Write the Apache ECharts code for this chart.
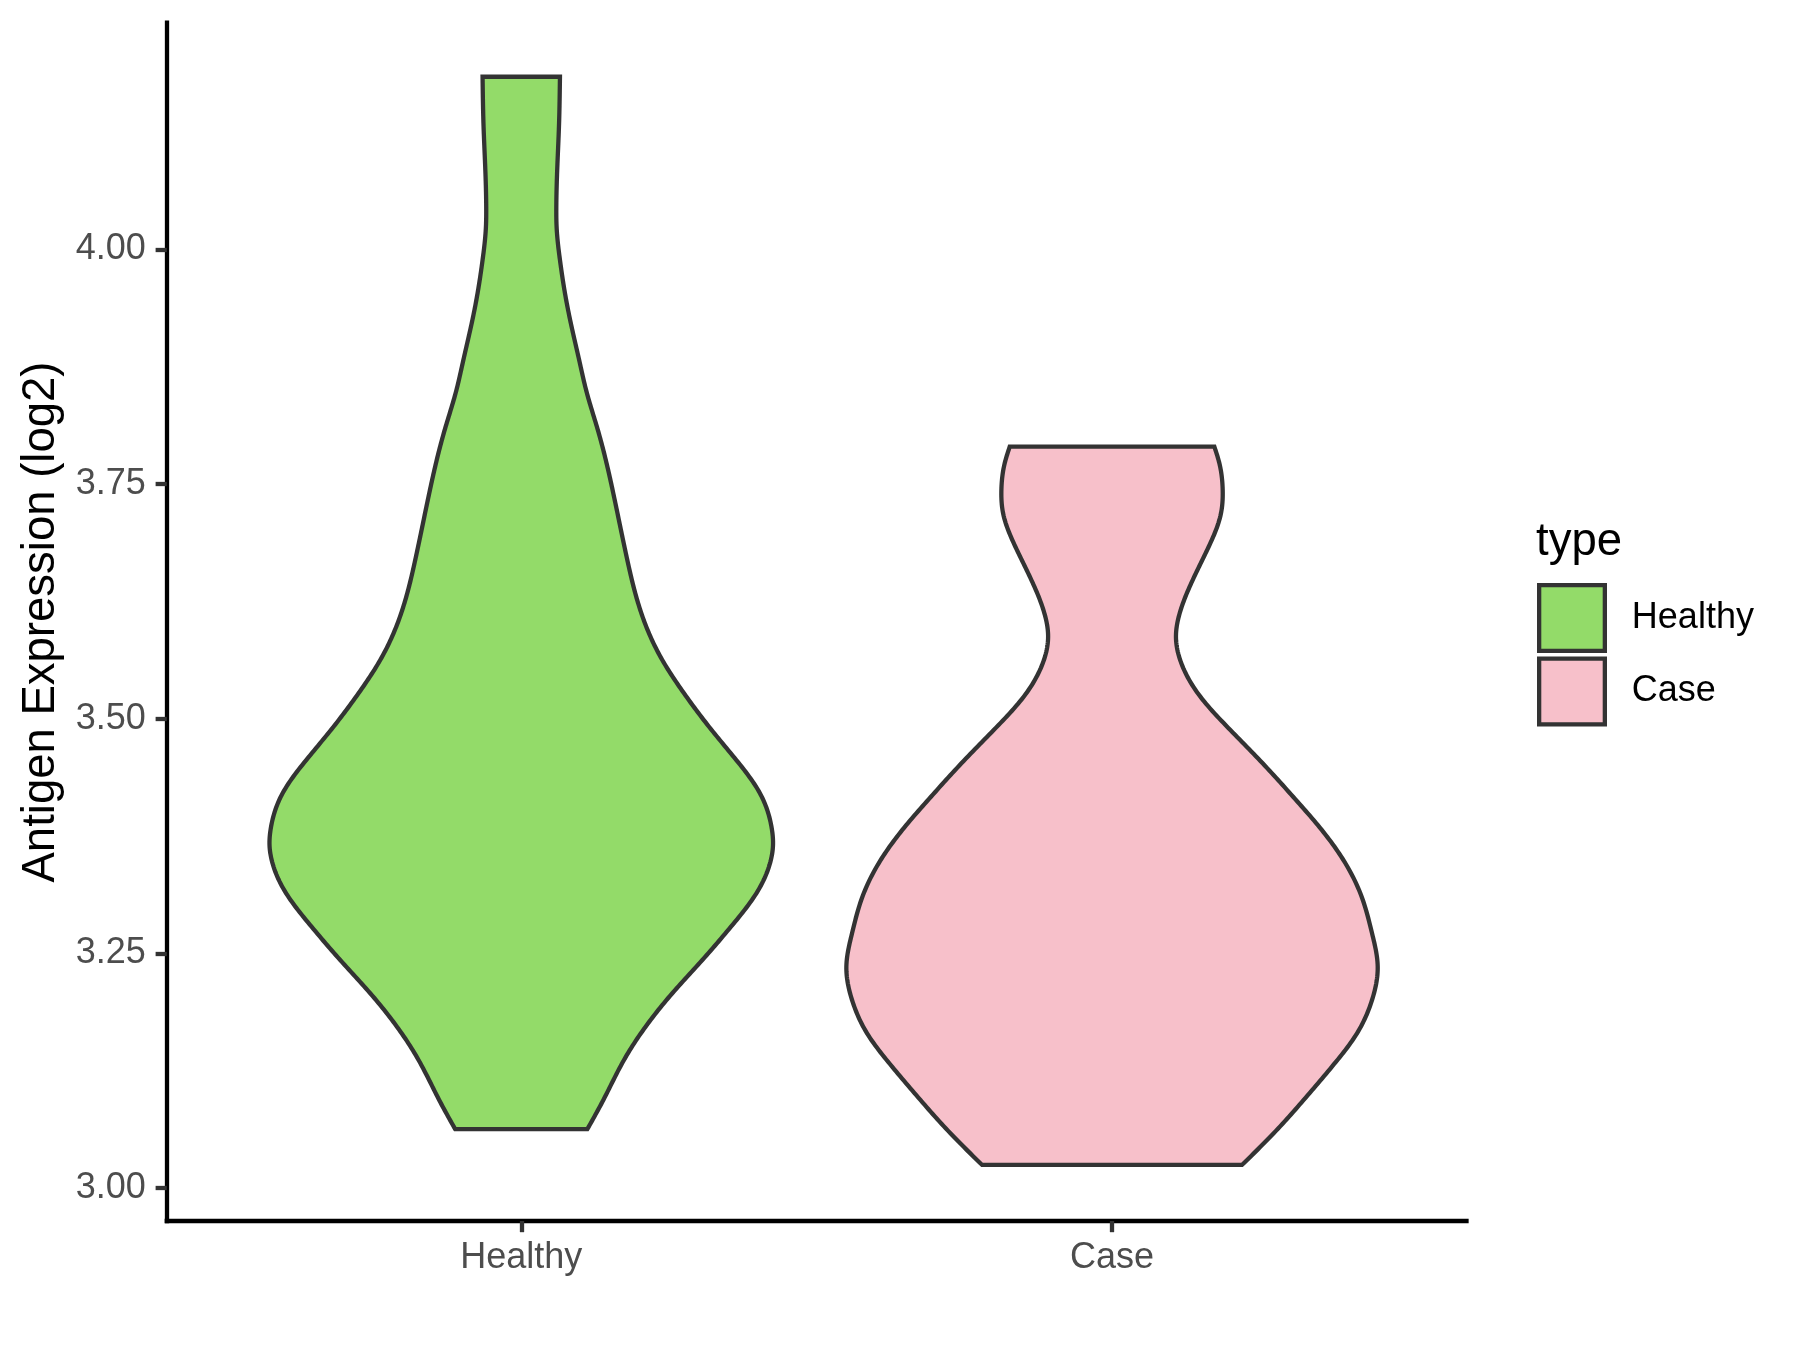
<!DOCTYPE html>
<html>
<head>
<meta charset="utf-8">
<script src="https://cdn.jsdelivr.net/npm/echarts@6/dist/echarts.min.js"></script>
<style>
html,body{margin:0;padding:0;background:#fff;}
#chart{width:1800px;height:1350px;}
</style>
</head>
<body>
<div id="chart"></div>
<script>
// ---- data ----
const categories = ['Healthy', 'Case'];
const categoryPositions = [1, 2];
const yTicks = [3.00, 3.25, 3.50, 3.75, 4.00];

// Healthy violin: expression values (top to bottom) and half-widths (category units)
const healthyValues = [4.1841, 4.1308, 4.0954, 4.0421, 4.0243, 3.9888, 3.9533, 3.9177, 3.8823, 3.8468, 3.8112, 3.7757, 3.7402, 3.7046, 3.6692, 3.6337, 3.5981, 3.5626, 3.5271, 3.4915, 3.4560, 3.4206, 3.3850, 3.3637, 3.3495, 3.3140, 3.2784, 3.2429, 3.2075, 3.1719, 3.1364, 3.0938, 3.0626];
const healthyHalfWidths = [0.0655, 0.0638, 0.0615, 0.0593, 0.0598, 0.0655, 0.0740, 0.0852, 0.0980, 0.1112, 0.1280, 0.1431, 0.1558, 0.1676, 0.1795, 0.1930, 0.2116, 0.2387, 0.2755, 0.3178, 0.3640, 0.4040, 0.4235, 0.4260, 0.4225, 0.3980, 0.3550, 0.3065, 0.2557, 0.2105, 0.1739, 0.1390, 0.1118];

// Case violin
const caseValues = [3.7899, 3.7722, 3.7437, 3.7189, 3.6833, 3.6478, 3.6124, 3.5874, 3.5591, 3.5235, 3.4880, 3.4525, 3.4169, 3.3815, 3.3460, 3.3090, 3.2714, 3.2358, 3.2003, 3.1648, 3.1293, 3.0938, 3.0583, 3.0245];
const caseHalfWidths = [0.1732, 0.1817, 0.1873, 0.1844, 0.1636, 0.1365, 0.1145, 0.1082, 0.1173, 0.1495, 0.2003, 0.2550, 0.3065, 0.3550, 0.3950, 0.4233, 0.4401, 0.4497, 0.4401, 0.4147, 0.3723, 0.3244, 0.2736, 0.2199];

const fillColors = ['#93DB69', '#F7C0CA'];
const outlineColor = '#333333';
const LW = 4.3;

// ---- rendering helper: natural cubic spline of screen x as a function of screen y ----
function smoothSide(pts, segs) {
  const n = pts.length;
  const ys = pts.map(p => p[1]), xs = pts.map(p => p[0]);
  const h = [];
  for (let i = 0; i < n - 1; i++) h.push(ys[i + 1] - ys[i]);
  const M = new Array(n).fill(0);
  if (n > 2) {
    const a = [], b = [], c = [], d = [];
    for (let i = 1; i < n - 1; i++) {
      a.push(h[i - 1]);
      b.push(2 * (h[i - 1] + h[i]));
      c.push(h[i]);
      d.push(6 * ((xs[i + 1] - xs[i]) / h[i] - (xs[i] - xs[i - 1]) / h[i - 1]));
    }
    const m = b.length;
    for (let i = 1; i < m; i++) {
      const w = a[i] / b[i - 1];
      b[i] -= w * c[i - 1];
      d[i] -= w * d[i - 1];
    }
    const sol = new Array(m);
    sol[m - 1] = d[m - 1] / b[m - 1];
    for (let i = m - 2; i >= 0; i--) sol[i] = (d[i] - c[i] * sol[i + 1]) / b[i];
    for (let i = 0; i < m; i++) M[i + 1] = sol[i];
  }
  const out = [];
  for (let i = 0; i < n - 1; i++) {
    for (let s = 0; s < segs; s++) {
      const t = s / segs;
      const y = ys[i] + t * h[i];
      const A = 1 - t, B = t;
      const x = A * xs[i] + B * xs[i + 1] + ((A * A * A - A) * M[i] + (B * B * B - B) * M[i + 1]) * h[i] * h[i] / 6;
      out.push([x, y]);
    }
  }
  out.push(pts[n - 1]);
  return out;
}

function makeRender(values, halfWidths, fill) {
  return function (params, api) {
    const cx = api.value(0);
    const left = values.map((v, i) => api.coord([cx - halfWidths[i], v]));
    const right = values.map((v, i) => api.coord([cx + halfWidths[i], v]));
    const L = smoothSide(left, 14);
    const R = smoothSide(right, 14).reverse();
    return {
      type: 'polygon',
      shape: { points: L.concat(R) },
      style: { fill: fill, stroke: outlineColor, lineWidth: LW, lineJoin: 'miter' }
    };
  };
}

const FONT = 'Liberation Sans, Arial, sans-serif';
const chart = echarts.init(document.getElementById('chart'), null, { renderer: 'canvas' });

const option = {
  animation: false,
  backgroundColor: '#ffffff',
  grid: { left: 166.8, right: 333.5, top: 22.7, bottom: 129, containLabel: false },
  xAxis: {
    type: 'value',
    min: 0.4,
    max: 2.6,
    splitLine: { show: false },
    axisLine: { show: true, onZero: false, lineStyle: { color: '#000000', width: LW, cap: 'square' } },
    axisTick: { show: true, customValues: categoryPositions, length: 11.2, lineStyle: { color: '#333333', width: LW } },
    axisLabel: {
      customValues: categoryPositions,
      formatter: v => categories[Math.round(v) - 1],
      margin: 19, fontSize: 36, color: '#4D4D4D', fontFamily: FONT
    }
  },
  yAxis: {
    type: 'value',
    min: 2.9648,
    max: 4.2417,
    splitLine: { show: false },
    axisLine: { show: true, onZero: false, lineStyle: { color: '#000000', width: LW, cap: 'square' } },
    axisTick: { show: true, customValues: yTicks, length: 11.2, lineStyle: { color: '#333333', width: LW } },
    axisLabel: {
      customValues: yTicks,
      formatter: v => v.toFixed(2),
      margin: 21, fontSize: 36, color: '#4D4D4D', fontFamily: FONT
    }
  },
  legend: {
    orient: 'vertical',
    left: 1537,
    top: 583,
    padding: 0,
    itemWidth: 65.7,
    itemHeight: 65.7,
    itemGap: 3.5,
    icon: 'rect',
    itemStyle: { borderColor: outlineColor, borderWidth: LW },
    textStyle: { fontSize: 36, color: '#000000', fontFamily: FONT, padding: [0, 0, 0, 22] },
    data: categories
  },
  graphic: [
    {
      type: 'text', x: 41, y: 622, rotation: Math.PI / 2,
      style: { text: 'Antigen Expression (log2)', fontSize: 45.5, fill: '#000000', fontFamily: FONT, align: 'center', verticalAlign: 'middle' }
    },
    {
      type: 'text', x: 1536, y: 542.5,
      style: { text: 'type', fontSize: 45.5, fill: '#000000', fontFamily: FONT, align: 'left', verticalAlign: 'middle' }
    }
  ],
  series: [
    {
      name: categories[0], type: 'custom', clip: false,
      itemStyle: { color: fillColors[0], borderColor: outlineColor, borderWidth: LW },
      renderItem: makeRender(healthyValues, healthyHalfWidths, fillColors[0]),
      data: [[categoryPositions[0]]]
    },
    {
      name: categories[1], type: 'custom', clip: false,
      itemStyle: { color: fillColors[1], borderColor: outlineColor, borderWidth: LW },
      renderItem: makeRender(caseValues, caseHalfWidths, fillColors[1]),
      data: [[categoryPositions[1]]]
    }
  ]
};
chart.setOption(option);
</script>
</body>
</html>
